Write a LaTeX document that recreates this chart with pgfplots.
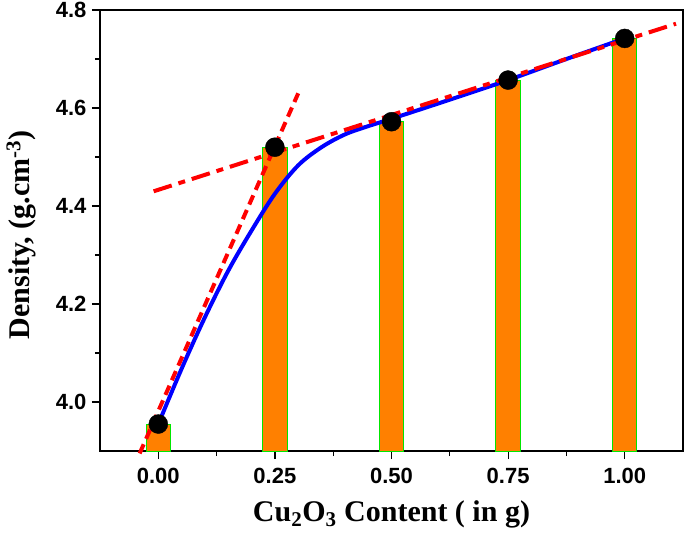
\documentclass[border=0pt]{standalone}
\usepackage{fontspec}
\setmainfont{Liberation Serif}
\setsansfont{Liberation Sans}
\usepackage{pgfplots}
\pgfplotsset{compat=1.18}
\definecolor{barorange}{RGB}{255,128,0}
\definecolor{bargreen}{RGB}{0,230,0}
\begin{document}
\begin{tikzpicture}
\begin{axis}[
  scale only axis, width=583pt, height=441pt,
  xmin=-0.125, xmax=1.125, ymin=3.9, ymax=4.8,
  xtick={0,0.25,0.5,0.75,1}, ytick={4.0,4.2,4.4,4.6,4.8},
  minor x tick num=1, minor y tick num=1,
  tick pos=left, tick align=outside,
  major tick length=8pt, minor tick length=5pt,
  tick style={black, line width=1.2pt},
  axis line style={line width=1.2pt},
  /pgf/number format/assume math mode=true,
  ticklabel style={font=\fontsize{22}{22}\selectfont\sffamily\bfseries},
  xticklabel style={yshift=-6pt},
  yticklabel style={xshift=-2pt},
  xticklabel={\pgfmathprintnumber[fixed,fixed zerofill,precision=2]{\tick}},
  yticklabel={\pgfmathprintnumber[fixed,fixed zerofill,precision=1]{\tick}},
  xlabel={Cu\textsubscript{2}O\textsubscript{3} Content ( in g)},
  ylabel={Density, (g.cm\textsuperscript{-3})},
  label style={font=\fontsize{30}{30}\selectfont\bfseries},
  xlabel style={at={(axis description cs:0.5,-0.143)}, anchor=center},
  ylabel style={at={(axis description cs:-0.135,0.49)}, anchor=center},
  clip=false,
]
\addplot[ybar, bar width=0.052, bar shift=0pt, fill=barorange, draw=bargreen, line width=1pt]
  coordinates {(0,3.955) (0.25,4.52) (0.5,4.572) (0.75,4.657) (1.0,4.742)};
\addplot[blue, line width=4pt, smooth, tension=0.55]
  coordinates {(0,3.955) (0.05,4.068) (0.10,4.173) (0.15,4.268) (0.20,4.350) (0.25,4.425) (0.30,4.483) (0.35,4.520) (0.40,4.546) (0.45,4.563) (0.50,4.578) (0.625,4.617) (0.75,4.657) (0.875,4.70) (1.0,4.742)};
\addplot[only marks, mark=*, mark size=9.5pt, black]
  coordinates {(0,3.955) (0.25,4.52) (0.5,4.572) (0.75,4.657) (1.0,4.742)};
\addplot[red, line width=4pt, dash pattern=on 10pt off 6pt]
  coordinates {(-0.04,3.895) (0.30,4.63)};
\addplot[red, line width=4pt, dash pattern=on 19pt off 7pt on 7pt off 7pt]
  coordinates {(-0.01,4.43) (1.11,4.772)};
\end{axis}
\pgfresetboundingbox
\path[use as bounding box] (-100pt,-82pt) rectangle (585pt,451pt);
\end{tikzpicture}
\end{document}
